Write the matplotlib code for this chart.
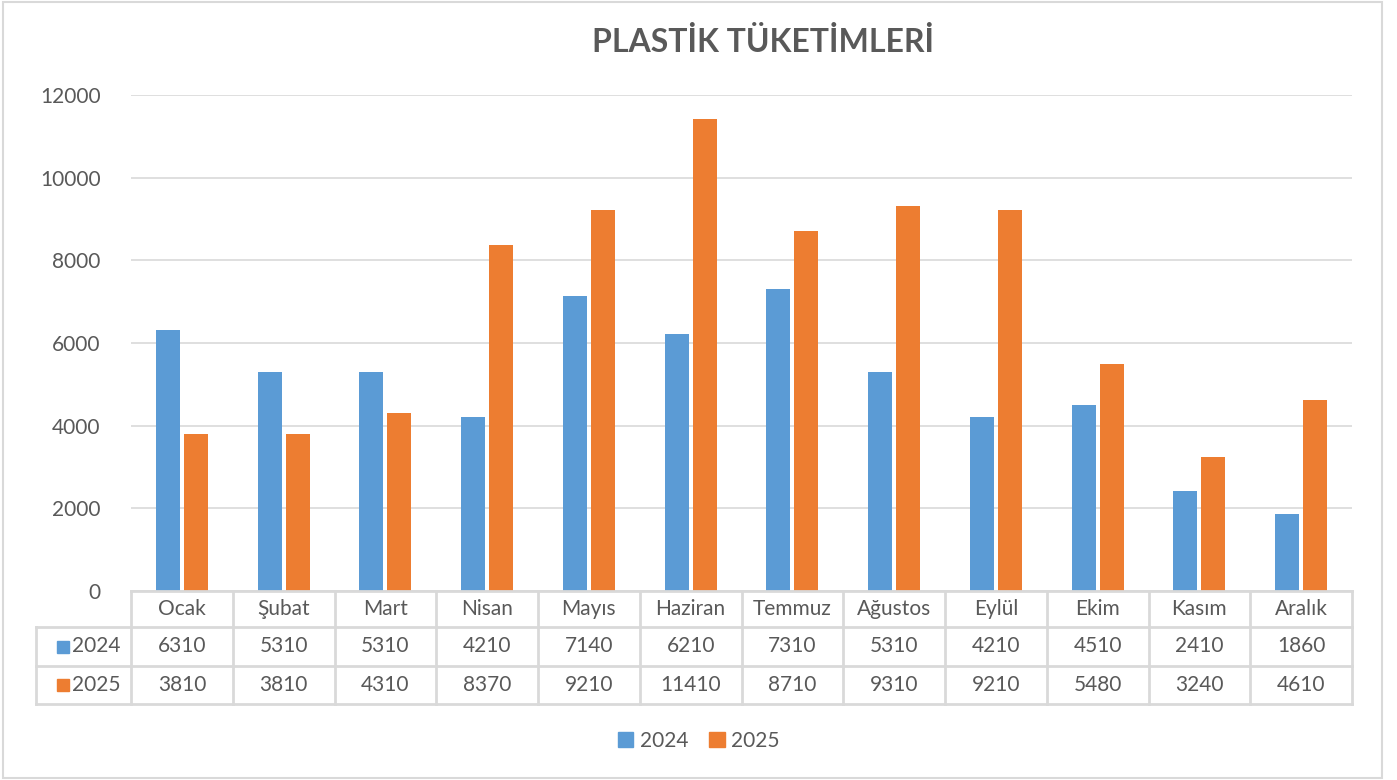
import numpy as np
import matplotlib.pyplot as plt
from matplotlib.patches import Rectangle, Patch

plt.rcParams['font.family'] = ['Lato', 'DejaVu Sans']

months = ['Ocak', 'Şubat', 'Mart', 'Nisan', 'Mayıs', 'Haziran',
          'Temmuz', 'Ağustos', 'Eylül', 'Ekim', 'Kasım', 'Aralık']
s2024 = [6310, 5310, 5310, 4210, 7140, 6210, 7310, 5310, 4210, 4510, 2410, 1860]
s2025 = [3810, 3810, 4310, 8370, 9210, 11410, 8710, 9310, 9210, 5480, 3240, 4610]
series_names = ['2024', '2025']
yticks = [0, 2000, 4000, 6000, 8000, 10000, 12000]

BLUE = '#5B9BD5'
ORANGE = '#ED7D31'
TXT = '#595959'
GRID = '#D9D9D9'
FS = 15

W, H = 1397, 780
fig = plt.figure(figsize=(W / 100, H / 100), dpi=100)

# outer chart border
fig.patches.append(Rectangle((3 / W, 2 / H), 1379 / W, 776 / H, transform=fig.transFigure,
                             fill=False, edgecolor=GRID, linewidth=1.5))

ax = fig.add_axes([131 / W, 1 - 591 / H, 1221 / W, 496 / H])
x = np.arange(len(months))
bw = 0.235
ax.bar(x + 0.5 - 0.137, s2024, width=bw, color=BLUE, zorder=3)
ax.bar(x + 0.5 + 0.137, s2025, width=bw, color=ORANGE, zorder=3)
ax.set_xlim(0, 12)
ax.set_ylim(0, 12000)
ax.set_yticks(yticks)
ax.set_yticklabels([str(v) for v in yticks], fontsize=FS, color=TXT)
ax.tick_params(axis='y', length=0, pad=22)
ax.set_xticks([])
ax.grid(axis='y', color=GRID, linewidth=1.2, zorder=0)
for sp in ax.spines.values():
    sp.set_visible(False)

fig.text(0.5 + 64 / W, 1 - 42 / H, 'PLASTİK TÜKETİMLERİ', ha='center', va='center',
         fontsize=23, fontweight='bold', color=TXT)

# data table under the axis
tx = fig.add_axes([131 / W, 1 - 704 / H, 1221 / W, 113 / H])
tx.set_xlim(0, 12)
tx.set_ylim(0, 113)
tx.axis('off')
row_edges = [113, 77, 38, 0]
left = -(131 - 36) / 1221 * 12
lw = 2
for yv in row_edges:
    x0 = 0 if yv == 113 else left
    tx.plot([x0, 12], [yv, yv], color=GRID, linewidth=lw, clip_on=False)
for i in range(13):
    tx.plot([i, i], [0, 113], color=GRID, linewidth=lw, clip_on=False)
tx.plot([left, left], [0, 77], color=GRID, linewidth=lw, clip_on=False)

for i, m in enumerate(months):
    tx.text(i + 0.5, 95, m, ha='center', va='center', fontsize=FS, color=TXT)
    tx.text(i + 0.5, 57.5, str(s2024[i]), ha='center', va='center', fontsize=FS, color=TXT)
    tx.text(i + 0.5, 19, str(s2025[i]), ha='center', va='center', fontsize=FS, color=TXT)

sq = 12 / 1221 * 12
for yv, name, col in [(57.5, series_names[0], BLUE), (19, series_names[1], ORANGE)]:
    sx = left + 21 / 1221 * 12
    tx.add_patch(Rectangle((sx, yv - 6), sq, 12, color=col, clip_on=False))
    tx.text(sx + sq + 3 / 1221 * 12, yv, name, ha='left', va='center', fontsize=FS, color=TXT)

handles = [Patch(color=BLUE, label=series_names[0]), Patch(color=ORANGE, label=series_names[1])]
leg = fig.legend(handles=handles, loc='center', bbox_to_anchor=(0.5, 1 - 741 / H), ncol=2,
                 frameon=False, fontsize=FS, handlelength=0.75, handleheight=0.75,
                 handletextpad=0.3, columnspacing=1.0)
for t in leg.get_texts():
    t.set_color(TXT)

plt.savefig('out.png', dpi=100)
